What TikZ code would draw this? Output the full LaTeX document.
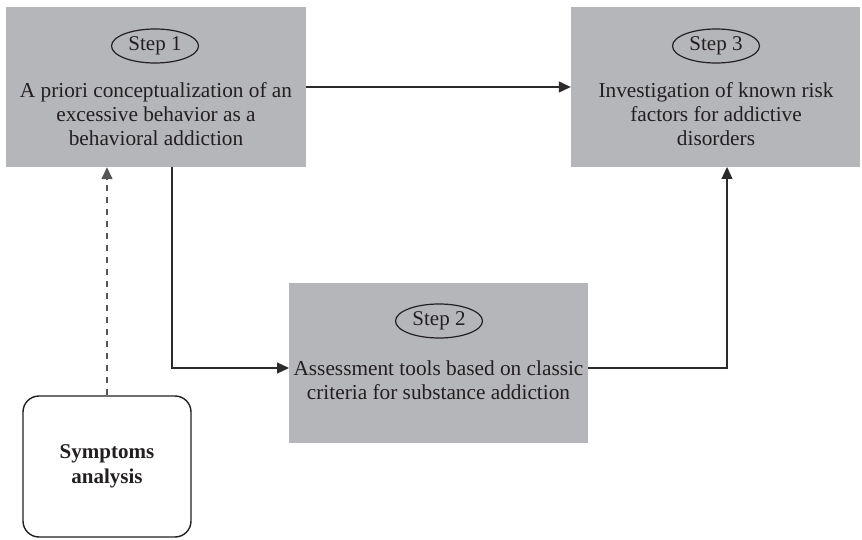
\documentclass[tikz,border=0pt]{standalone}
\usepackage{fontspec}
\setmainfont{Liberation Serif}
\usetikzlibrary{arrows.meta,shapes.geometric,calc}
\definecolor{boxgray}{RGB}{181,182,186}
\definecolor{ink}{RGB}{35,31,32}
\definecolor{lineink}{RGB}{45,42,43}
\definecolor{dashink}{RGB}{85,85,88}
\begin{document}
\begin{tikzpicture}[x=1pt,y=-1pt,
  stepbox/.style={rectangle, fill=boxgray, draw=none, inner sep=0pt},
  steplabel/.style={ellipse, draw=ink, line width=1.2pt, minimum width=87pt, minimum height=34pt, inner sep=0pt, text=ink, font=\fontsize{21}{24}\selectfont},
  bodytext/.style={align=center, text=ink, inner sep=0pt, font=\fontsize{21.3}{24}\selectfont},
  conn/.style={draw=lineink, line width=1.2pt, -{Triangle[length=12pt,width=11pt]}},
  dconn/.style={draw=dashink, line width=1.4pt, dash pattern=on 6pt off 6pt, -{Triangle[length=12pt,width=11pt]}},
  symbox/.style={rectangle, rounded corners=16pt, draw=ink, line width=1.4pt, fill=white, align=center, text=ink, font=\fontsize{21}{25}\selectfont\bfseries}
]
\useasboundingbox (0,0) rectangle (862,540);
% boxes
\node[stepbox, minimum width=300pt, minimum height=160pt] (s1) at (156,87) {};
\node[stepbox, minimum width=289pt, minimum height=160pt] (s3) at (715.5,87) {};
\node[stepbox, minimum width=299pt, minimum height=160pt] (s2) at (438.5,363) {};
\node[symbox, minimum width=168pt, minimum height=141pt] (sym) at (107,466.5) {Symptoms\\analysis};
% labels
\node[steplabel] (e1) at (155,46) {Step 1};
\node[steplabel] (e3) at (716,46) {Step 3};
\node[steplabel] (e2) at (439,321) {Step 2};
\node[bodytext] (t1) at (156,114) {A priori conceptualization of an\\excessive behavior as a\\behavioral addiction};
\node[bodytext] (t3) at (716,114) {Investigation of known risk\\factors for addictive\\disorders};
\node[bodytext] (t2) at (438.5,380) {Assessment tools based on classic\\criteria for substance addiction};
% helper coordinates
\coordinate (c1) at (172,167);
\coordinate (c2) at (289,368);
\coordinate (c3) at (588,368);
\coordinate (c4) at (727,167);
% connectors
\draw[conn] (s1.east) -- (s3.west);
\draw[conn] (c1) |- (c2);
\draw[conn] (c3) -| (c4);
\draw[dconn] (sym.north) -- (sym.north |- s1.south);
\end{tikzpicture}
\end{document}
